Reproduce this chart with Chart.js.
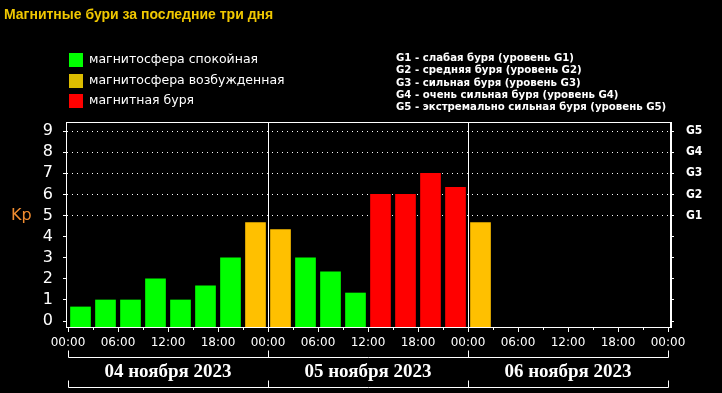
<!DOCTYPE html>
<html>
<head>
<meta charset="utf-8">
<script src="https://cdn.jsdelivr.net/npm/chart.js"></script>
<style>
    html, body { margin: 0; padding: 0; background: #000; }
    #kp-wrap { width: 722px; height: 393px; }
</style>
</head>
<body>
<div id="kp-wrap">
    <canvas id="kp-chart" width="722" height="393"></canvas>
</div>

<script>
    // Данные: индекс Kp по трёхчасовым интервалам (начало интервала в часах от 04.11 00:00)
    var hours = [0, 3, 6, 9, 12, 15, 18, 21, 24, 27, 30, 33, 36, 39, 42, 45, 48];
    var kpValues = [0.67, 1, 1, 2, 1, 1.67, 3, 4.67, 4.33, 3, 2.33, 1.33, 6, 6, 7, 6.33, 4.67];

    var yTicks = [0, 1, 2, 3, 4, 5, 6, 7, 8, 9];
    var gLabels = ['G1', 'G2', 'G3', 'G4', 'G5'];          // для Kp = 5..9
    var xTickHours = [0, 6, 12, 18, 24, 30, 36, 42, 48, 54, 60, 66, 72];
    var xTickLabels = ['00:00', '06:00', '12:00', '18:00', '00:00', '06:00', '12:00', '18:00',
                       '00:00', '06:00', '12:00', '18:00', '00:00'];
    var dayLabels = ['04 ноября 2023', '05 ноября 2023', '06 ноября 2023'];

    var legendLabels = ['магнитосфера спокойная', 'магнитосфера возбужденная', 'магнитная буря'];
    var legendColors = ['#00ff00', '#dcbc00', '#ff0000'];
    var stormLines = [
        'G1 - слабая буря (уровень G1)',
        'G2 - средняя буря (уровень G2)',
        'G3 - сильная буря (уровень G3)',
        'G4 - очень сильная буря (уровень G4)',
        'G5 - экстремально сильная буря (уровень G5)'
    ];

    var Y_MIN = -0.28, Y_MAX = 9.43;

    // Цвет столбца по уровню Kp
    function barColor(v) {
        if (v >= 5) return '#ff0000';
        if (v >= 4) return '#ffc000';
        return '#00ff00';
    }

    var points = hours.map(function (h, i) { return { x: h + 1.5, y: kpValues[i] }; });

    // Рамка, подписи, легенды и скобки с датами
    var decorPlugin = {
        id: 'decor',
        afterDraw: function (chart) {
            var ctx = chart.ctx;
            var area = chart.chartArea;
            var xs = chart.scales.x;
            ctx.save();

            // рамка графика
            ctx.strokeStyle = '#ffffff';
            ctx.lineWidth = 1;
            ctx.strokeRect(area.left + 0.5, area.top + 0.5, area.right - area.left - 1, area.bottom - area.top);

            // короткие промежуточные риски (03, 09, 15, 21)
            for (var h = 3; h < 72; h += 6) {
                var px = Math.round(xs.getPixelForValue(h)) + 0.5;
                ctx.beginPath();
                ctx.moveTo(px, area.bottom);
                ctx.lineTo(px, area.bottom + 3);
                ctx.stroke();
            }

            // скобки с датами
            var yTop = 357.5, yBot = 387.5;
            var edges = [0, 24, 48, 72].map(function (v) { return Math.round(xs.getPixelForValue(v)) + 0.5; });
            [yTop, yBot].forEach(function (yy) {
                ctx.beginPath();
                ctx.moveTo(edges[0], yy);
                ctx.lineTo(edges[3], yy);
                edges.forEach(function (ex) {
                    ctx.moveTo(ex, yy);
                    ctx.lineTo(ex, yy - 7);
                });
                ctx.stroke();
            });
            ctx.fillStyle = '#ffffff';
            ctx.font = 'bold 19px "Liberation Serif"';
            ctx.textAlign = 'center';
            ctx.textBaseline = 'middle';
            dayLabels.forEach(function (d, i) {
                ctx.fillText(d, xs.getPixelForValue(12 + 24 * i), 372);
            });

            // Kp
            ctx.fillStyle = '#f08c30';
            ctx.font = '16px "DejaVu Sans"';
            ctx.textAlign = 'left';
            ctx.fillText('Kp', 11, 216);

            // заголовок
            ctx.fillStyle = '#f0c800';
            ctx.font = 'bold 14px "Liberation Sans"';
            ctx.fillText('Магнитные бури за последние три дня', 4, 15);

            // легенда слева
            ctx.font = '12.5px "DejaVu Sans"';
            legendLabels.forEach(function (t, i) {
                var cy = 60 + i * 20.5;
                ctx.fillStyle = legendColors[i];
                ctx.fillRect(69, Math.round(cy - 7), 14, 14);
                ctx.fillStyle = '#ffffff';
                ctx.fillText(t, 89, cy);
            });

            // легенда справа
            ctx.font = 'bold 11.3px "DejaVu Sans Condensed"';
            stormLines.forEach(function (t, i) {
                ctx.fillText(t, 396, 58 + i * 12.3);
            });

            ctx.restore();
        }
    };

    var ctx = document.getElementById('kp-chart').getContext('2d');
    var kpChart = new Chart(ctx, {
        type: 'bar',
        data: {
            datasets: [{
                label: 'Kp',
                data: points,
                backgroundColor: kpValues.map(barColor),
                borderWidth: 0,
                barThickness: 20,
                base: Y_MIN
            }]
        },
        options: {
            responsive: false,
            devicePixelRatio: 1,
            animation: false,
            layout: { padding: { top: 122, left: 0, right: 0, bottom: 0 } },
            plugins: {
                legend: { display: false },
                title: { display: false },
                tooltip: { enabled: false }
            },
            scales: {
                x: {
                    type: 'linear',
                    offset: false,
                    min: -0.24,
                    max: 72.36,
                    afterBuildTicks: function (axis) {
                        axis.ticks = xTickHours.map(function (v) { return { value: v }; });
                    },
                    afterFit: function (axis) { axis.height = 66; },
                    ticks: {
                        color: '#ffffff',
                        font: { family: 'DejaVu Sans', size: 12 },
                        padding: 4,
                        maxRotation: 0,
                        autoSkip: false,
                        callback: function (v) { return xTickLabels[xTickHours.indexOf(v)]; }
                    },
                    grid: {
                        offset: false,
                        color: function (c) {
                            return (c.tick && (c.tick.value === 24 || c.tick.value === 48)) ? '#ffffff' : 'rgba(0,0,0,0)';
                        },
                        tickColor: '#ffffff',
                        tickLength: 5
                    },
                    border: { color: '#ffffff' }
                },
                y: {
                    position: 'left',
                    min: Y_MIN,
                    max: Y_MAX,
                    afterBuildTicks: function (axis) {
                        axis.ticks = yTicks.map(function (v) { return { value: v }; });
                    },
                    afterFit: function (axis) { axis.width = 66; },
                    ticks: {
                        color: '#ffffff',
                        font: { family: 'DejaVu Sans', size: 16 },
                        padding: 10
                    },
                    grid: {
                        color: function (c) {
                            return (c.tick && c.tick.value >= 5) ? '#ffffff' : 'rgba(0,0,0,0)';
                        },
                        tickColor: '#ffffff',
                        tickLength: 3
                    },
                    border: { color: '#ffffff', dash: [1, 4] }
                },
                y2: {
                    position: 'right',
                    min: Y_MIN,
                    max: Y_MAX,
                    afterBuildTicks: function (axis) {
                        axis.ticks = yTicks.map(function (v) { return { value: v }; });
                    },
                    afterFit: function (axis) { axis.width = 51; },
                    ticks: {
                        color: '#ffffff',
                        font: { family: 'DejaVu Sans Condensed', size: 12, weight: 'bold' },
                        padding: 12,
                        callback: function (v) { return v >= 5 ? gLabels[v - 5] : ''; }
                    },
                    grid: {
                        drawOnChartArea: false,
                        tickColor: '#ffffff',
                        tickLength: 3
                    },
                    border: { color: '#ffffff' }
                }
            }
        },
        plugins: [decorPlugin]
    });
</script>
</body>
</html>
